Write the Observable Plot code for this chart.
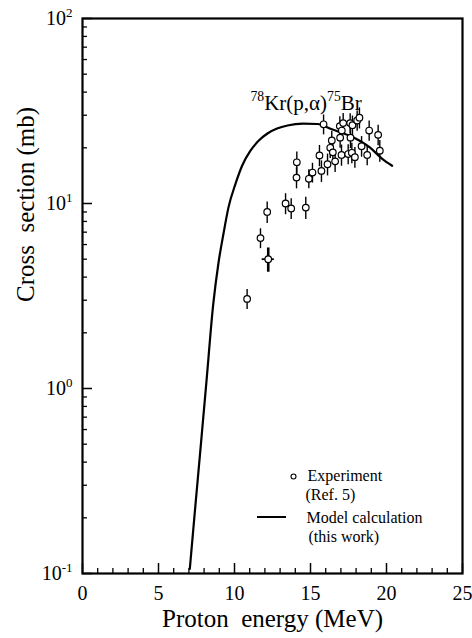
<!DOCTYPE html>
<html>
<head>
<meta charset="utf-8">
<script src="https://cdn.jsdelivr.net/npm/d3@7"></script>
<script src="https://cdn.jsdelivr.net/npm/@observablehq/plot@0.6"></script>
<style>
  html, body { margin: 0; padding: 0; background: white; }
  svg, svg text, svg tspan { font-family: "Liberation Serif", "Times New Roman", Times, serif !important; }
</style>
</head>
<body>
<div id="chart"></div>
<script>
// Experimental data (Ref. 5)
const expEnergy = [10.83, 11.71, 12.15, 12.22, 13.36, 13.73, 14.69, 14.08, 14.10, 14.89,
                   15.13, 15.72, 15.59, 15.86, 16.12, 16.40, 16.30, 16.47, 16.62, 16.93,
                   17.06, 17.15, 16.95, 17.04, 17.48, 17.61, 17.76, 17.63, 17.72, 17.92,
                   18.07, 18.22, 18.36, 18.73, 18.86, 19.45, 19.56];
const expSigma  = [3.05, 6.5, 9.0, 5.0, 10.0, 9.4, 9.5, 13.8, 16.7, 13.6,
                   14.7, 15.0, 18.2, 26.8, 16.3, 21.9, 20.0, 18.9, 16.9, 26.2,
                   24.8, 27.2, 22.7, 18.3, 18.5, 27.2, 26.5, 22.7, 18.8, 17.8,
                   28.1, 29.1, 20.4, 18.3, 24.8, 23.5, 19.3];
const expErr    = [0.38, 0.8, 1.2, 0.75, 1.3, 1.2, 1.3, 1.8, 2.3, 1.6,
                   1.8, 2.0, 2.4, 3.3, 2.2, 2.6, 2.5, 2.4, 2.2, 3.2,
                   3.0, 3.5, 2.8, 2.4, 2.3, 3.4, 3.2, 2.9, 2.4, 2.3,
                   3.5, 3.8, 2.6, 2.3, 3.1, 3.0, 2.6];
const expEnergyErr = [0, 0, 0, 0.4, 0, 0, 0, 0, 0, 0,
                      0, 0, 0, 0, 0, 0, 0, 0, 0, 0,
                      0, 0, 0, 0, 0, 0, 0, 0, 0, 0,
                      0, 0, 0, 0, 0, 0, 0];

// Model calculation (this work)
const modelEnergy = [7.06, 7.4, 7.75, 8.15, 8.6, 8.95, 9.28, 9.6, 10.07, 10.5,
                     11.05, 11.6, 12.17, 12.8, 13.49, 14.5, 15.46, 16.4, 17.9, 18.9,
                     19.7, 20.37];
const modelSigma  = [0.106, 0.22, 0.46, 1.08, 2.85, 4.8, 6.9, 9.5, 12.8, 16.0,
                     19.3, 21.9, 23.9, 25.4, 26.4, 27.0, 26.9, 25.2, 22.6, 20.1,
                     17.5, 16.0];

// Axes
const xTicks = [0, 5, 10, 15, 20, 25];
const xMinorTicks = [1, 2, 3, 4, 6, 7, 8, 9, 11, 12, 13, 14, 16, 17, 18, 19, 21, 22, 23, 24];
const yTicks = [0.1, 1, 10, 100];
const yTickLabels = ["10^-1", "10^0", "10^1", "10^2"];
const yMinorTicks = [0.2, 0.3, 0.4, 0.5, 0.6, 0.7, 0.8, 0.9,
                     2, 3, 4, 5, 6, 7, 8, 9,
                     20, 30, 40, 50, 60, 70, 80, 90];

const xLabel = "Proton\u00a0 energy (MeV)";
const yLabel = "Cross\u00a0 section (mb)";
const reactionLabel = "^78Kr(p,\u03b1)^75Br";
const legendLabels = ["Experiment", "(Ref. 5)", "Model calculation", "(this work)"];

const expData = expEnergy.map((e, i) => ({
  e, s: expSigma[i], lo: expSigma[i] - expErr[i], hi: expSigma[i] + expErr[i],
  eLo: e - expEnergyErr[i], eHi: e + expEnergyErr[i], thick: expEnergyErr[i] > 0
}));
const modelData = modelEnergy.map((e, i) => ({e, s: modelSigma[i]}));

const serif = "'Liberation Serif', 'Times New Roman', Times, serif";

const chart = Plot.plot({
  width: 472,
  height: 638,
  marginLeft: 82,
  marginRight: 10,
  marginTop: 18,
  marginBottom: 65,
  style: {"font-family": serif, "background": "white", "color": "black"},
  x: {domain: [0, 25]},
  y: {type: "log", domain: [0.1, 100]},
  marks: [
    // axes
    Plot.axisX(xMinorTicks, {tickSize: -5, strokeWidth: 1.3, tickFormat: () => "", label: null}),
    Plot.axisX(xTicks, {tickSize: -10, strokeWidth: 1.5, tickFormat: () => "", label: null}),
    Plot.axisX(xTicks, {tickSize: 0, tickPadding: 12, fontSize: 20, tickFormat: d => String(d), label: null}),
    Plot.axisY(yMinorTicks, {tickSize: -5, strokeWidth: 1.3, tickFormat: () => "", label: null}),
    Plot.axisY(yTicks, {tickSize: -10, strokeWidth: 1.5, tickFormat: () => "", label: null}),
    Plot.axisY(yTicks, {tickSize: 0, tickPadding: 10, fontSize: 20,
      tickFormat: d => yTickLabels[yTicks.indexOf(d)], label: null}),
    Plot.frame({stroke: "black", strokeWidth: 2.2}),
    // model curve
    Plot.line(modelData, {x: "e", y: "s", stroke: "black", strokeWidth: 2.2, curve: "monotone-x"}),
    // experimental error bars
    Plot.ruleX(expData.filter(d => !d.thick), {x: "e", y1: "lo", y2: "hi", stroke: "black", strokeWidth: 1.4}),
    Plot.ruleX(expData.filter(d => d.thick), {x: "e", y1: "lo", y2: "hi", stroke: "black", strokeWidth: 2.6}),
    Plot.ruleY(expData.filter(d => d.thick), {y: "s", x1: "eLo", x2: "eHi", stroke: "black", strokeWidth: 1.8}),
    Plot.dot(expData, {x: "e", y: "s", r: 3.3, fill: "white", stroke: "black", strokeWidth: 1.2}),
    // reaction label
    Plot.text([reactionLabel], {text: d => d, frameAnchor: "top-left", lineAnchor: "middle", dx: 168, dy: 85,
      textAnchor: "start", fontSize: 21, fill: "black"}),
    // legend
    Plot.dot([0], {frameAnchor: "top-left", dx: 211, dy: 458, r: 2.5, fill: "white", stroke: "black", strokeWidth: 1.1}),
    Plot.text([legendLabels[0]], {text: d => d, frameAnchor: "top-left", lineAnchor: "middle", dx: 225, dy: 457, textAnchor: "start", fontSize: 16}),
    Plot.text([legendLabels[1]], {text: d => d, frameAnchor: "top-left", lineAnchor: "middle", dx: 223, dy: 476, textAnchor: "start", fontSize: 16}),
    Plot.text([legendLabels[2]], {text: d => d, frameAnchor: "top-left", lineAnchor: "middle", dx: 224, dy: 499, textAnchor: "start", fontSize: 16}),
    Plot.text([legendLabels[3]], {text: d => d, frameAnchor: "top-left", lineAnchor: "middle", dx: 226, dy: 518, textAnchor: "start", fontSize: 16}),
    // axis titles
    Plot.text([xLabel], {text: d => d, frameAnchor: "bottom", lineAnchor: "middle", dy: 45, fontSize: 25}),
    Plot.text([yLabel], {text: d => d, frameAnchor: "left", lineAnchor: "middle", dx: -57, dy: 6, rotate: -90, fontSize: 25})
  ]
});

// superscript rendering for "^digits" notation
function supify(node) {
  const txt = node.textContent;
  if (!txt.includes("^")) return;
  let fs = parseFloat(window.getComputedStyle(node).fontSize) || 20;
  const parts = txt.split(/\^(-?\d+)/);
  node.textContent = "";
  let raised = false;
  parts.forEach((p, i) => {
    if (p === "") return;
    const ts = document.createElementNS("http://www.w3.org/2000/svg", "tspan");
    if (i % 2 === 1) {
      ts.setAttribute("font-size", (fs * 0.65).toFixed(1));
      ts.setAttribute("dy", (-fs * 0.42).toFixed(1));
      raised = true;
    } else {
      if (raised) ts.setAttribute("dy", (fs * 0.42).toFixed(1));
      raised = false;
    }
    ts.textContent = p;
    node.appendChild(ts);
  });
}

document.getElementById("chart").appendChild(chart);
d3.select(chart).selectAll("text").each(function() { supify(this); });

// legend line sample
d3.select(chart).append("line")
  .attr("x1", 257).attr("x2", 286).attr("y1", 517).attr("y2", 517)
  .attr("stroke", "black").attr("stroke-width", 2);
</script>
</body>
</html>
